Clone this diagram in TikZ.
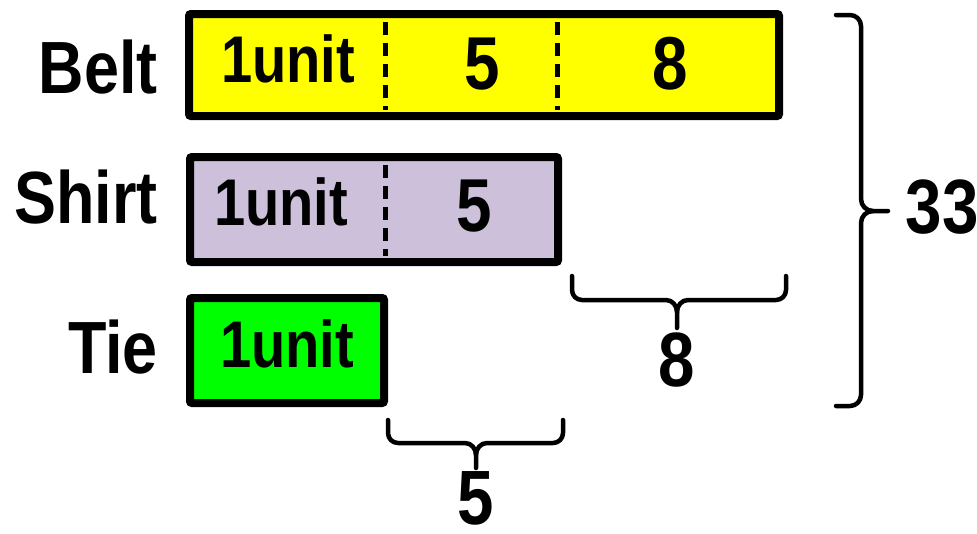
\documentclass[tikz,border=0pt]{standalone}
\usepackage{fontspec}
\newfontfamily\cond[FakeStretch=0.85]{Liberation Sans}
\definecolor{beltc}{RGB}{255,255,0}
\definecolor{shirtc}{RGB}{204,192,218}
\definecolor{tiec}{RGB}{0,255,0}
\begin{document}
\begin{tikzpicture}[x=1pt,y=-1pt,
  bar/.style={draw=black, line width=8pt, rounded corners=2pt, inner sep=0pt, outer sep=0pt, anchor=north west},
  dsh/.style={line width=5pt, dash pattern=on 13pt off 8pt},
  brace/.style={line width=4.5pt, line cap=round, line join=round},
  lbl/.style={font=\cond\bfseries\fontsize{74}{74}\selectfont, inner sep=0pt, anchor=base east},
  inunit/.style={font=\cond\bfseries\fontsize{66}{66}\selectfont, inner sep=0pt, anchor=base},
  innum/.style={font=\cond\bfseries\fontsize{75}{75}\selectfont, inner sep=0pt, anchor=base},
  tot/.style={font=\cond\bfseries\fontsize{77}{77}\selectfont, inner sep=0pt, anchor=base}]
\useasboundingbox (0,0) rectangle (977,533);
% boxes
\node[bar, fill=beltc, minimum width=590pt, minimum height=102pt] (belt) at (189,14) {};
\node[bar, fill=shirtc, minimum width=368pt, minimum height=105pt] (shirt) at (190,157) {};
\node[bar, fill=tiec, minimum width=194pt, minimum height=105pt] (tie) at (190,298) {};
% dashed dividers
\coordinate (b1t) at (385,22); \coordinate (b1b) at (385,110);
\coordinate (b2t) at (557,22); \coordinate (b2b) at (557,110);
\coordinate (s1t) at (385,165); \coordinate (s1b) at (385,256);
\draw[dsh] (b1t) -- (b1b);
\draw[dsh] (b2t) -- (b2b);
\draw[dsh] (s1t) -- (s1b);
% row labels
\node[lbl] (lbelt) at (158,93) {Belt};
\node[lbl] (lshirt) at (158,223) {Shirt};
\node[lbl] (ltie) at (158,373) {Tie};
% inner texts
\node[inunit] (bu) at (288,82) {1unit};
\node[innum] (b5) at (482,89) {5};
\node[innum] (b8) at (670,89) {8};
\node[inunit] (su) at (281,225) {1unit};
\node[innum] (s5) at (474,231) {5};
\node[inunit] (tu) at (287,367) {1unit};
% brace under shirt (8)
\coordinate (e8l) at (572,276); \coordinate (e8r) at (786,276); \coordinate (e8t) at (677,328);
\draw[brace] (e8l) -- (572,290) to[out=-90,in=180] (582,300) -- (666,300) to[out=0,in=90] (677,312) -- (e8t);
\draw[brace] (e8r) -- (786,290) to[out=-90,in=0] (776,300) -- (688,300) to[out=180,in=90] (677,312);
\node[tot] (n8) at (677,386) {8};
% brace under tie (5)
\coordinate (e5l) at (388,420); \coordinate (e5r) at (563,420); \coordinate (e5t) at (476,468);
\draw[brace] (e5l) -- (388,433) to[out=-90,in=180] (398,443) -- (465,443) to[out=0,in=90] (476,455) -- (e5t);
\draw[brace] (e5r) -- (563,433) to[out=-90,in=0] (553,443) -- (487,443) to[out=180,in=90] (476,455);
\node[tot] (n5) at (476,524) {5};
% right brace (33)
\coordinate (rt) at (836,15); \coordinate (rb) at (836,406); \coordinate (rtip) at (888,211);
\draw[brace] (rt) -- (850,15) to[out=0,in=90] (861,26) -- (861,199) to[out=-90,in=180] (873,211) -- (rtip);
\draw[brace] (rb) -- (850,406) to[out=0,in=-90] (861,395) -- (861,223) to[out=90,in=180] (873,211);
\node[tot] (n33) at (942,233) {33};
\end{tikzpicture}
\end{document}
